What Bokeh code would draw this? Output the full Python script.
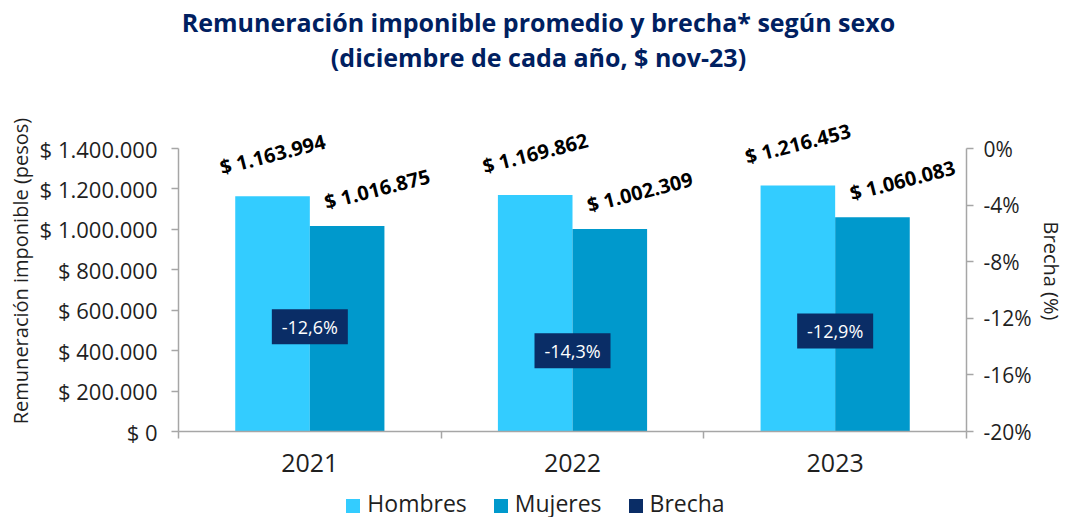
import math
from bokeh.plotting import figure
from bokeh.layouts import column
from bokeh.models import (Range1d, LinearAxis, FixedTicker, CustomJSTickFormatter,
                          PrintfTickFormatter, ColumnDataSource, LabelSet, Div)
from bokeh.core.properties import value
from bokeh.embed import file_html
from bokeh.resources import INLINE

# ---- data ----
years = ["2021", "2022", "2023"]
hombres = [1163994, 1169862, 1216453]
mujeres = [1016875, 1002309, 1060083]
brecha = [-12.6, -14.3, -12.9]
left_ticks = [0, 200000, 400000, 600000, 800000, 1000000, 1200000, 1400000]
right_ticks = [0, -4, -8, -12, -16, -20]
title_lines = ["Remuneración imponible promedio y brecha* según sexo",
               "(diciembre de cada año, $ nov-23)"]
series_names = ["Hombres", "Mujeres", "Brecha"]

FONT = "Open Sans"
C_H = "#33CCFF"
C_M = "#0099CC"
C_B = "#0A2D66"
NAVY = "#002060"
GREY = "#A6A6A6"
TXT = "#1F1F1F"
colors = [C_H, C_M, C_B]

# ---- layout (pixels) ----
W = 1067
WD = 1059
DIV_H = 70
FIG_H = 407
LEG_H = 24
AX_TOP, AX_BOT = 68, 351      # canvas y of the axis extent (1.4M / 0)
FRAME_TOP = 30                 # canvas y of frame top (room for value labels)
BW = 0.284

y_lo, y_hi = left_ticks[0], left_ticks[-1]
ext = (AX_BOT - FRAME_TOP) / (AX_BOT - AX_TOP)
b_lo, b_hi = right_ticks[-1], right_ticks[0]


def money(v):
    return "$ " + f"{v:,}".replace(",", ".")


centers = [i + 0.5 for i in range(len(years))]
src = ColumnDataSource(dict(
    xc=centers,
    xh=[c - BW / 2 for c in centers],
    xm=[c + BW / 2 for c in centers],
    h=hombres, m=mujeres, b=brecha,
    hl=[money(v) for v in hombres],
    ml=[money(v) for v in mujeres],
    bl=[f"{v:.1f}%".replace(".", ",") for v in brecha],
))

title = Div(text=(f'<div style="width:{WD}px;box-sizing:border-box;padding-left:8px;text-align:center;'
                  f'font-family:\'Open Sans\';font-weight:bold;font-size:25px;color:{NAVY};'
                  f'line-height:35px;margin-top:0px;white-space:nowrap">'
                  f'{title_lines[0]}<br>{title_lines[1]}</div>'),
            width=WD, height=DIV_H)

p = figure(width=W, height=FIG_H, output_backend="svg", toolbar_location=None,
           x_range=Range1d(0, len(years)),
           y_range=Range1d(y_lo, y_lo + (y_hi - y_lo) * ext),
           x_axis_type=None, y_axis_type=None,
           min_border_left=178, min_border_right=97, min_border_top=FRAME_TOP,
           min_border_bottom=FIG_H - AX_BOT, title=None)
p.outline_line_color = None
p.xgrid.grid_line_color = None
p.ygrid.grid_line_color = None
p.background_fill_color = "white"
p.border_fill_color = "white"
p.extra_y_ranges = {"brecha": Range1d(b_lo, b_lo + (b_hi - b_lo) * ext)}

# axes
yl = LinearAxis(ticker=FixedTicker(ticks=left_ticks), bounds=(y_lo, y_hi),
                formatter=CustomJSTickFormatter(code="return '$ ' + tick.toFixed(0).replace(/\\B(?=(\\d{3})+(?!\\d))/g, '.');"),
                axis_label="Remuneración imponible (pesos)")
yr = LinearAxis(y_range_name="brecha", ticker=FixedTicker(ticks=right_ticks), bounds=(b_lo, b_hi),
                formatter=PrintfTickFormatter(format="%d%%"), axis_label="Brecha (%)")
for ax in (yl, yr):
    ax.axis_line_color = GREY
    ax.axis_line_width = 1.5
    ax.major_tick_line_color = GREY
    ax.major_tick_line_width = 1.5
    ax.major_tick_out = 7
    ax.major_tick_in = 0
    ax.minor_tick_line_color = None
    ax.major_label_text_font = FONT
    ax.major_label_text_color = TXT
    ax.axis_label_text_font = FONT
    ax.axis_label_text_font_size = "20px"
    ax.axis_label_text_font_style = "normal"
    ax.axis_label_text_color = TXT
yl.major_label_text_font_size = "22px"
yr.major_label_text_font_size = "21px"
yl.major_label_standoff = 14
yl.axis_label_standoff = 3
yr.major_label_standoff = 10
yr.axis_label_standoff = 3
p.add_layout(yl, "left")
p.add_layout(yr, "right")

xa = LinearAxis(ticker=FixedTicker(ticks=centers, minor_ticks=list(range(len(years) + 1))),
                major_label_overrides={c: y for c, y in zip(centers, years)})
xa.axis_line_color = GREY
xa.axis_line_width = 1.5
xa.major_tick_line_color = None
xa.minor_tick_line_color = GREY
xa.minor_tick_line_width = 1.5
xa.minor_tick_out = 7
xa.minor_tick_in = 0
xa.major_tick_out = 7
xa.major_tick_in = 0
xa.major_label_text_font = FONT
xa.major_label_text_font_size = "25px"
xa.major_label_text_color = TXT
xa.major_label_standoff = 15
p.add_layout(xa, "below")

# bars
p.vbar(x="xh", top="h", width=BW, bottom=0, source=src, fill_color=C_H, line_color=None)
p.vbar(x="xm", top="m", width=BW, bottom=0, source=src, fill_color=C_M, line_color=None)

# value labels
for xcol, lcol, ycol, dx, dy in [("xh", "hl", "h", 0, 42), ("xm", "ml", "m", 30, 37)]:
    ls = LabelSet(x=xcol, y=ycol, text=lcol, source=src, x_offset=dx, y_offset=dy,
                  angle=0.25, text_align="center", text_baseline="middle",
                  text_font=value(FONT), text_font_size="20px", text_font_style="bold",
                  text_color="black")
    p.add_layout(ls)

# brecha boxes
p.rect(x="xc", y="b", width=76, height=35, width_units="screen", height_units="screen",
       source=src, y_range_name="brecha", fill_color=C_B, line_color=None)
p.text(x="xc", y="b", text="bl", source=src, y_range_name="brecha",
       text_align="center", text_baseline="middle", text_font=value(FONT),
       text_font_size="18px", text_color="white")

# legend (HTML row below the plot)
items = []
for name, col in zip(series_names, colors):
    items.append(f'<span style="display:inline-block;width:14px;height:14px;background:{col};'
                 f'margin-right:7px;vertical-align:-1px"></span>{name}')
legend_html = (f'<div style="width:{WD}px;text-align:center;font-family:\'Open Sans\';'
               f'font-size:23px;color:{TXT};line-height:24px;position:relative;top:-1px;'
               f'padding-left:2px;box-sizing:border-box;white-space:nowrap">'
               + '<span style="display:inline-block;width:27px"></span>'.join(items) + '</div>')
legend = Div(text=legend_html, width=WD, height=LEG_H)

layout = column(title, p, legend, spacing=0)
open("out.html", "w").write(file_html(layout, INLINE))
